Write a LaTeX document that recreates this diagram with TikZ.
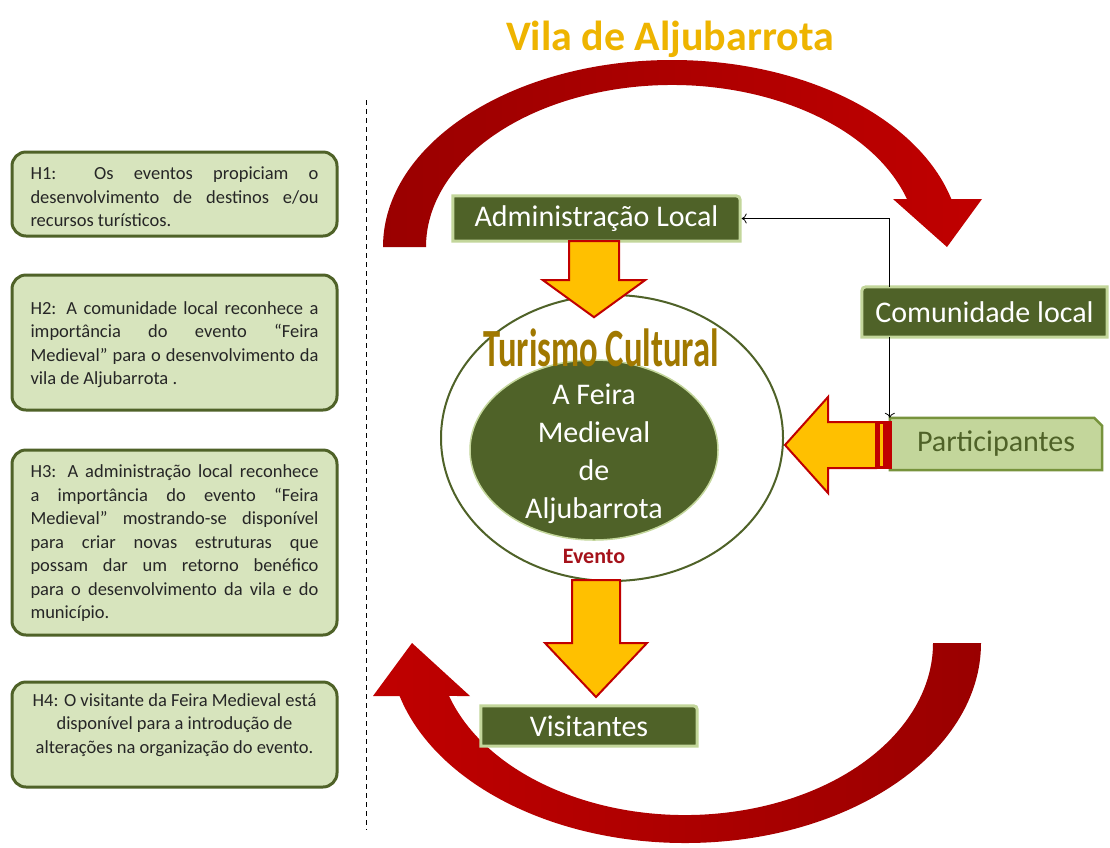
\documentclass[tikz,border=0pt]{standalone}
\usepackage{fontspec}
\usepackage{graphicx}
\setmainfont{Carlito}
\usetikzlibrary{arrows.meta,calc,shapes.geometric}
\definecolor{olive}{HTML}{4F6228}
\definecolor{paleg}{HTML}{D7E4BD}
\definecolor{lightg}{HTML}{C3D69B}
\definecolor{midg}{HTML}{77933C}
\definecolor{bred}{HTML}{C00000}
\definecolor{dred}{HTML}{9A0000}
\definecolor{byel}{HTML}{FFC000}
\definecolor{gold}{HTML}{EEB400}
\definecolor{bronze}{HTML}{A07800}
\definecolor{evred}{HTML}{A5121B}
\definecolor{txt}{HTML}{262626}
\newcommand\hypJ[1]{\makebox[288pt][s]{#1}}
\newcommand\hypL[1]{\makebox[288pt][l]{#1}}
\pgfdeclarelayer{back}
\pgfdeclarelayer{bg}
\pgfsetlayers{back,bg,main}
\begin{document}
\begin{tikzpicture}[x=1pt,y=-1pt,
  hbox/.style={draw=olive,line width=3pt,fill=paleg,rounded corners=14pt,inner sep=0pt},
  htext/.style={text=txt,font=\fontsize{18.5}{23.5}\selectfont,align=left,inner sep=0pt},
  darkbox/.style={text=white,font=\fontsize{30}{36}\selectfont,inner sep=0pt},
  darkshape/.style={fill=olive,draw=lightg,line width=3pt},
  partshape/.style={fill=lightg,draw=midg,line width=2.5pt},
  blockarrow/.style={fill=byel,draw=bred,line width=2pt,line join=miter},
  conn/.style={draw=black,line width=0.8pt,-{To[length=5pt,width=10pt]}},
  divider/.style={draw=black,line width=0.8pt,dash pattern=on 5pt off 4pt}]
\begin{pgfonlayer}{back}
\fill[white] (0,0) rectangle (1110,847);
\end{pgfonlayer}
\useasboundingbox (0,0) rectangle (1110,847);

% divider
\coordinate (d1) at (366,100);
\coordinate (d2) at (366,830);
\draw[divider] (d1) -- (d2);

% hypotheses
\node[hbox,minimum width=325,minimum height=84] (h1) at (174.5,194) {};
\node[hbox,minimum width=325,minimum height=135] (h2) at (174.5,342.5) {};
\node[hbox,minimum width=325,minimum height=185] (h3) at (174.5,542.5) {};
\node[hbox,minimum width=325,minimum height=105] (h4) at (174.5,734.5) {};
\node[htext] (h1t) at (h1.center) [yshift=-3pt] {\hypJ{H1: Os eventos propiciam o}\\\hypJ{desenvolvimento de destinos e/ou}\\\hypL{recursos turísticos.}};
\node[htext] (h2t) at (h2.center) [yshift=-2pt] {\hypJ{H2: A comunidade local reconhece a}\\\hypJ{importância do evento “Feira}\\\hypJ{Medieval” para o desenvolvimento da}\\\hypL{vila de Aljubarrota .}};
\node[htext] (h3t) at (h3.center) [yshift=-1pt] {\hypJ{H3: A administração local reconhece}\\\hypJ{a importância do evento “Feira}\\\hypJ{Medieval” mostrando-se disponível}\\\hypJ{para criar novas estruturas que}\\\hypJ{possam dar um retorno benéfico}\\\hypJ{para o desenvolvimento da vila e do}\\\hypL{município.}};
\node[htext,align=center] (h4t) at (174.5,725) {H4: O visitante da Feira Medieval está\\disponível para a introdução de\\alterações na organização do evento.};

% big red arcs
\begin{pgfonlayer}{back}
\path[left color=dred,right color=bred] (383,247) arc[start angle=180,end angle=345.13,x radius=289,y radius=187]
  -- (982,199) -- (947,247) -- (893,199)
  -- ($(672,247)+(342.77:246 and 162)$) arc[start angle=342.77,end angle=180,x radius=246,y radius=162] -- cycle;
\path[left color=bred,right color=dred] (981,643) arc[start angle=0,end angle=164.63,x radius=296,y radius=200]
  -- (373,696) -- (412,643) -- (470,696)
  -- ($(685,643)+(162.06:248 and 172)$) arc[start angle=162.06,end angle=0,x radius=248,y radius=172] -- cycle;
\end{pgfonlayer}

% title
\node[font=\bfseries\fontsize{42}{48}\selectfont,text=gold,anchor=base,inner sep=0pt] (title) at (670,50) {Vila de Aljubarrota};

% central ellipses
\node[ellipse,draw=olive,line width=2pt,fill=white,minimum width=342,minimum height=286,inner sep=0pt] (outer) at (612,438) {};
\node[ellipse,draw=lightg,line width=1.5pt,fill=olive,minimum width=248,minimum height=180,inner sep=0pt] (inner) at (594,450) {};
\node[font=\bfseries\fontsize{48}{52}\selectfont,text=bronze,anchor=base,inner sep=0pt] (tc) at (601,366) {\scalebox{0.72}[1.12]{Turismo Cultural}};
\node[text=white,font=\fontsize{30}{38}\selectfont,align=center,inner sep=0pt] (feira) at (594,454) {A Feira\\Medieval\\de\\Aljubarrota};
\node[text=evred,font=\bfseries\fontsize{22}{26}\selectfont,inner sep=0pt] (evento) at (594,556) {Evento};

% boxes
\node[darkbox,minimum width=287,minimum height=45] (admin) at (596.5,218.5) {Administração Local};
\node[darkbox,minimum width=245,minimum height=50] (comm) at (984.5,312) {Comunidade local};
\node[text=olive,font=\fontsize{30}{36}\selectfont,inner sep=0pt,minimum width=212,minimum height=52] (part) at (996,444) {Participantes};
\node[darkbox,minimum width=216,minimum height=40] (vis) at (589,726) {Visitantes};
\begin{pgfonlayer}{bg}
\path[darkshape] (admin.south west) -- (admin.north west) -- ([xshift=-9pt]admin.north east) .. controls (admin.north east) .. ([yshift=-9pt]admin.north east) -- (admin.south east) -- cycle;
\path[darkshape] (comm.south west) -- ([yshift=-9pt]comm.north west) .. controls (comm.north west) .. ([xshift=9pt]comm.north west) -- (comm.north east) -- (comm.south east) -- cycle;
\path[partshape] (part.south west) -- (part.north west) -- ([xshift=-8pt]part.north east) -- ([yshift=-8pt]part.north east) -- (part.south east) -- cycle;
\path[darkshape] (vis.south west) -- (vis.north west) -- ([xshift=-8pt]vis.north east) .. controls (vis.north east) .. ([yshift=-8pt]vis.north east) -- (vis.south east) -- cycle;
\end{pgfonlayer}

% yellow block arrows
\coordinate (a1) at (admin.south -| 594,0);
\path[blockarrow] (a1) ++(-25,0) -- ++(50,0) -- ++(0,39) -- ++(26,0) -- ++(-51,37) -- ++(-51,-37) -- ++(26,0) -- cycle;
\coordinate (a2) at (596,580);
\path[blockarrow] (a2) ++(-24,0) -- ++(48,0) -- ++(0,63) -- ++(27,0) -- ++(-51,54) -- ++(-51,-54) -- ++(27,0) -- cycle;
\coordinate (a3) at (876,445);
\path[blockarrow] (a3) ++(0,-23) -- ++(-48,0) -- ++(0,-25) -- ++(-43,48) -- ++(43,48) -- ++(0,-25) -- ++(48,0) -- cycle;
\fill[bred] (875,421) rectangle (892,469);
\fill[byel] (880,424) rectangle (883,466);

% connectors
\draw[conn,shorten >=1.5pt] (comm.north -| part.north west) |- (admin.east);
\draw[conn] (comm.south -| part.north west) -- (part.north west);
\end{tikzpicture}
\end{document}
